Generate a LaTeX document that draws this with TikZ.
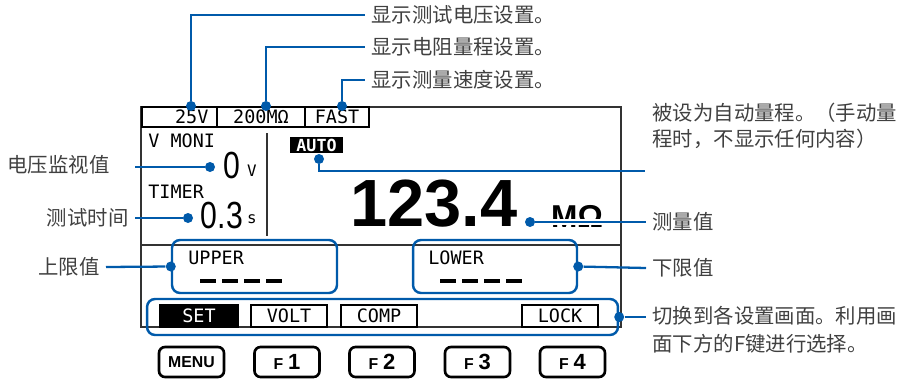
\documentclass[tikz,border=0pt]{standalone}
\usepackage{fontspec}
\usepackage{xcolor}
\usepackage{tikz}
\newfontfamily\cjk{Noto Sans CJK SC}
\newfontfamily\lcd{DejaVu Sans Mono}
\newfontfamily\keyfont{Liberation Sans}
\definecolor{leadblue}{RGB}{0,90,170}
\definecolor{labelgray}{RGB}{64,64,64}

\begin{document}
\begin{tikzpicture}[x=0.02cm, y=-0.02cm,
  lead/.style={leadblue, line width=1.3pt},
  dot/.style={circle, fill=leadblue, inner sep=0pt, minimum size=0.2cm},
  callout/.style={font=\cjk\fontsize{11.6}{14.5}\selectfont, text=labelgray, inner sep=3.5pt, align=left},
  frame/.style={black!80, line width=0.6pt},
  lcdtext/.style={font=\lcd\fontsize{10.5}{12}\selectfont, inner sep=0pt},
  setbox/.style={draw, line width=0.9pt, minimum height=0.4cm, inner sep=0pt, font=\lcd\fontsize{10.5}{12}\selectfont},
  tabbox/.style={draw, line width=0.9pt, minimum width=1.52cm, minimum height=0.44cm, inner sep=0pt, font=\lcd\fontsize{10.5}{12}\selectfont},
  bluebox/.style={draw=leadblue, line width=1.4pt, rounded corners=0.16cm, inner sep=0pt},
  keybox/.style={draw, line width=1.5pt, rounded corners=0.12cm, minimum width=1.3cm, minimum height=0.6cm, inner sep=0pt, font=\keyfont\bfseries}]
  \useasboundingbox (0,0) rectangle (905,382);

  % display frame
  \draw[frame] (141,107) rectangle (621,327);
  \draw[frame] (267,133) -- (267,236);
  \draw[frame] (141,245) -- (621,245);

  % setting boxes on top
  \node[setbox, fill=white, minimum width=1.5cm] (boxVolt) at (179.5,117) {};
  \node[lcdtext, anchor=east] (txtVolt) at ([xshift=-0.18cm]boxVolt.east) {25V};
  \node[setbox, fill=white, minimum width=1.76cm] (boxRange) at (261,117) {200MΩ};
  \node[setbox, fill=white, minimum width=1.28cm] (boxSpeed) at (337,117) {FAST};

  % left readings
  \node[lcdtext, anchor=west] (vmoni) at (148,141) {V MONI};
  \node[font=\keyfont\fontsize{21.5}{20}\selectfont, inner sep=0pt] (moniVal) at (232,165) {\scalebox{.8}[1]{0}};
  \node[lcdtext, font=\lcd\fontsize{9}{10}\selectfont] (moniUnit) at (252,171) {V};
  \node[lcdtext, anchor=west] (timer) at (148,192) {TIMER};
  \node[font=\keyfont\fontsize{21.5}{20}\selectfont, inner sep=0pt] (timerVal) at (222,215) {\scalebox{.8}[1]{0.3}};
  \node[lcdtext, font=\lcd\fontsize{9}{10}\selectfont] (timerUnit) at (252,219) {s};

  % main value
  \node[fill=black, text=white, inner sep=0pt, minimum width=1.06cm, minimum height=0.32cm, font=\lcd\bfseries\fontsize{9.5}{10}\selectfont] (auto) at (316.5,145) {AUTO};
  \node[font=\keyfont\bfseries\fontsize{38}{38}\selectfont, inner sep=0pt] (mainVal) at (434,204) {123.4};
  \node[font=\keyfont\bfseries\fontsize{18}{18}\selectfont, inner sep=0pt] (mainUnit) at (577,216) {MΩ};

  % upper / lower
  \node[bluebox, minimum width=3.3cm, minimum height=1.06cm] (upperBox) at (254.5,266.5) {};
  \node[lcdtext, anchor=west] (upperTxt) at (188,258) {UPPER};
  \foreach \i in {0,...,3}
    \draw[line width=2.3pt] ({200+22*\i},281) -- ({216+22*\i},281);
  \node[bluebox, minimum width=3.28cm, minimum height=1.06cm] (lowerBox) at (495,266.5) {};
  \node[lcdtext, anchor=west] (lowerTxt) at (428,258) {LOWER};
  \foreach \i in {0,...,3}
    \draw[line width=2.3pt] ({440+22*\i},281) -- ({456+22*\i},281);

  % function tabs
  \node[tabbox, fill=black, text=white, minimum width=1.56cm] (tabSet) at (199,316) {SET};
  \node[tabbox] (tabVolt) at (289,316) {VOLT};
  \node[tabbox] (tabComp) at (379,316) {COMP};
  \node[tabbox] (tabLock) at (560,316) {LOCK};
  \node[bluebox, minimum width=9.42cm, minimum height=0.72cm] (tabBox) at (382.5,317) {};

  % keys
  \node[keybox, font=\keyfont\bfseries\fontsize{9}{9}\selectfont] (keyMenu) at (191.5,362) {MENU};
  \foreach \k/\x in {1/287, 2/382, 3/477.5, 4/572.5}
    \node[keybox] (keyF\k) at (\x,362) {{\fontsize{9}{9}\selectfont F}\hspace{0.1cm}{\fontsize{12.5}{12}\selectfont\k}};

  % dots
  \node[dot] (dVolt) at (191,106) {};
  \node[dot] (dRange) at (266,106) {};
  \node[dot] (dSpeed) at (342,106) {};
  \node[dot] (dMoni) at (210,167) {};
  \node[dot] (dTimer) at (188,218) {};
  \node[dot] (dAuto) at (319,159) {};
  \node[dot] (dMain) at (530,222) {};
  \node[dot] (dUpper) at (upperBox.west) {};
  \node[dot] (dLower) at (lowerBox.east) {};
  \node[dot] (dTabs) at (tabBox.east) {};

  % labels
  \node[callout, anchor=west] (lblVolt) at (365,15) {显示测试电压设置。};
  \node[callout, anchor=west] (lblRange) at (365,47) {显示电阻量程设置。};
  \node[callout, anchor=west] (lblSpeed) at (365,80) {显示测量速度设置。};
  \node[callout, anchor=east] (lblMoni) at (116,165) {电压监视值};
  \node[callout, anchor=east] (lblTimer) at (135,218) {测试时间};
  \node[callout, anchor=east] (lblUpper) at (106,267) {上限值};
  \node[callout, anchor=west] (lblAuto) at (646,126) {被设为自动量程。（手动量\\程时，不显示任何内容）};
  \node[callout, anchor=west] (lblMain) at (646,222) {测量值};
  \node[callout, anchor=west] (lblLower) at (646,268) {下限值};
  \node[callout, anchor=west, font=\cjk\fontsize{11.6}{15.9}\selectfont] (lblTabs) at (646,330) {切换到各设置画面。利用画\\面下方的F键进行选择。};
  \coordinate (moniEnd) at (135,167);
  \coordinate (autoEnd) at (645,171);

  % leader lines
  \draw[lead] (dVolt) |- (lblVolt.west);
  \draw[lead] (dRange) |- (lblRange.west);
  \draw[lead] (dSpeed) |- (lblSpeed.west);
  \draw[lead] (dMoni) -- (moniEnd);
  \draw[lead] (dTimer) -- (lblTimer.east);
  \draw[lead] (dUpper) -- (lblUpper.east);
  \draw[lead] (dAuto) |- (autoEnd);
  \draw[white, line width=3.5pt] (550,222) -- (610,222);
  \draw[lead] (dMain) -- (lblMain.west);
  \draw[lead] (dLower) -- (lblLower.west);
  \draw[lead] (dTabs) -- (lblTabs.west |- dTabs);
\end{tikzpicture}
\end{document}
